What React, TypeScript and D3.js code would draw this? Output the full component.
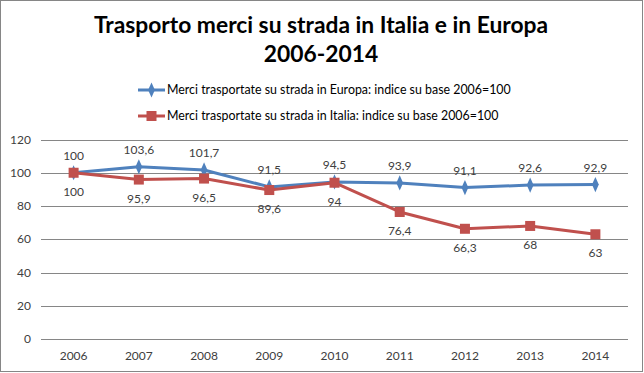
import * as d3 from "d3";
import { useEffect, useRef } from "react";

const years = ["2006", "2007", "2008", "2009", "2010", "2011", "2012", "2013", "2014"];
const europa = [100, 103.6, 101.7, 91.5, 94.5, 93.9, 91.1, 92.6, 92.9];
const italia = [100, 95.9, 96.5, 89.6, 94, 76.4, 66.3, 68, 63];
const yTicks = [0, 20, 40, 60, 80, 100, 120];
const seriesNames = [
  "Merci trasportate su strada in Europa: indice su base 2006=100",
  "Merci trasportate su strada in Italia: indice su base 2006=100",
];

const fmt = (v: number) => String(v).replace(".", ",");

function App() {
  const ref = useRef<SVGSVGElement>(null);
  const width = 644;
  const height = 373;

  useEffect(() => {
    const svg = d3.select(ref.current);
    svg.selectAll("*").remove();
    const font = "Lato, 'Open Sans', sans-serif";

    svg.append("rect")
      .attr("x", 0.5).attr("y", 0.5)
      .attr("width", width - 2).attr("height", height - 2)
      .attr("fill", "white").attr("stroke", "#868686");

    // title
    const title = svg.append("text")
      .attr("text-anchor", "middle")
      .attr("font-family", font)
      .attr("font-weight", "bold")
      .attr("font-size", 22.8)
      .attr("fill", "black");
    title.append("tspan").attr("x", 321).attr("y", 33).text("Trasporto merci su strada in Italia e in Europa");
    title.append("tspan").attr("x", 321).attr("y", 62).text("2006-2014");

    const x = d3.scaleBand().domain(years).range([41, 628]);
    const y = d3.scaleLinear().domain([0, 120]).range([339, 139.5]);
    const cx = (d: string) => (x(d) as number) + x.bandwidth() / 2;

    // gridlines
    svg.append("g").selectAll("line").data(yTicks).join("line")
      .attr("x1", 41).attr("x2", 628)
      .attr("y1", (d) => Math.round(y(d)) + 0.5).attr("y2", (d) => Math.round(y(d)) + 0.5)
      .attr("stroke", "#868686");

    svg.append("g").selectAll("text").data(yTicks).join("text")
      .attr("x", 31).attr("y", (d) => y(d) + 4)
      .attr("text-anchor", "end")
      .attr("font-family", font).attr("font-size", 12).attr("fill", "#404040")
      .text((d) => d);

    svg.append("g").selectAll("text").data(years).join("text")
      .attr("x", cx).attr("y", 360)
      .attr("text-anchor", "middle")
      .attr("font-family", font).attr("font-size", 12).attr("fill", "#404040")
      .text((d) => d);

    const line = d3.line<number>()
      .x((_, i) => cx(years[i]))
      .y((d) => y(d));

    const colors = ["#4F81BD", "#C0504D"];
    const series = [europa, italia];

    // lines first (Italy drawn on top)
    series.forEach((s, k) => {
      svg.append("path").datum(s)
        .attr("d", line)
        .attr("fill", "none")
        .attr("stroke", colors[k])
        .attr("stroke-width", 3)
        .attr("stroke-linejoin", "round");
      const g = svg.append("g");
      if (k === 0) {
        g.selectAll("path").data(s).join("path")
          .attr("d", d3.symbol(d3.symbolDiamond, 55)())
          .attr("transform", (d, i) => `translate(${cx(years[i])},${y(d)}) scale(0.85,1.1)`)
          .attr("fill", colors[k]);
      } else {
        g.selectAll("rect").data(s).join("rect")
          .attr("x", (_, i) => cx(years[i]) - 5)
          .attr("y", (d) => y(d) - 5)
          .attr("width", 10).attr("height", 10)
          .attr("fill", colors[k]);
      }
    });

    // data labels
    svg.append("g").selectAll("text").data(europa).join("text")
      .attr("x", (_, i) => cx(years[i]))
      .attr("y", (d) => y(d) - 13)
      .attr("text-anchor", "middle")
      .attr("font-family", font).attr("font-size", 12).attr("fill", "#404040")
      .text((d) => fmt(d));
    svg.append("g").selectAll("text").data(italia).join("text")
      .attr("x", (_, i) => cx(years[i]))
      .attr("y", (d) => y(d) + 23)
      .attr("text-anchor", "middle")
      .attr("font-family", font).attr("font-size", 12).attr("fill", "#404040")
      .text((d) => fmt(d));

    // legend
    seriesNames.forEach((name, k) => {
      const ly = 90 + k * 26;
      svg.append("line")
        .attr("x1", 138).attr("x2", 165).attr("y1", ly).attr("y2", ly)
        .attr("stroke", colors[k]).attr("stroke-width", 3);
      if (k === 0) {
        svg.append("path")
          .attr("d", d3.symbol(d3.symbolDiamond, 55)())
          .attr("transform", `translate(151.5,${ly}) scale(0.85,1.1)`)
          .attr("fill", colors[k]);
      } else {
        svg.append("rect")
          .attr("x", 146.5).attr("y", ly - 5).attr("width", 10).attr("height", 10)
          .attr("fill", colors[k]);
      }
      svg.append("text")
        .attr("x", 167).attr("y", ly + 4)
        .attr("font-family", font).attr("font-size", 12.4).attr("fill", "black")
        .text(name);
    });
  });

  return (
    <svg ref={ref} width={width} height={height}
      style={{ position: "absolute", left: 0, top: 0 }} />
  );
}

export default App;
